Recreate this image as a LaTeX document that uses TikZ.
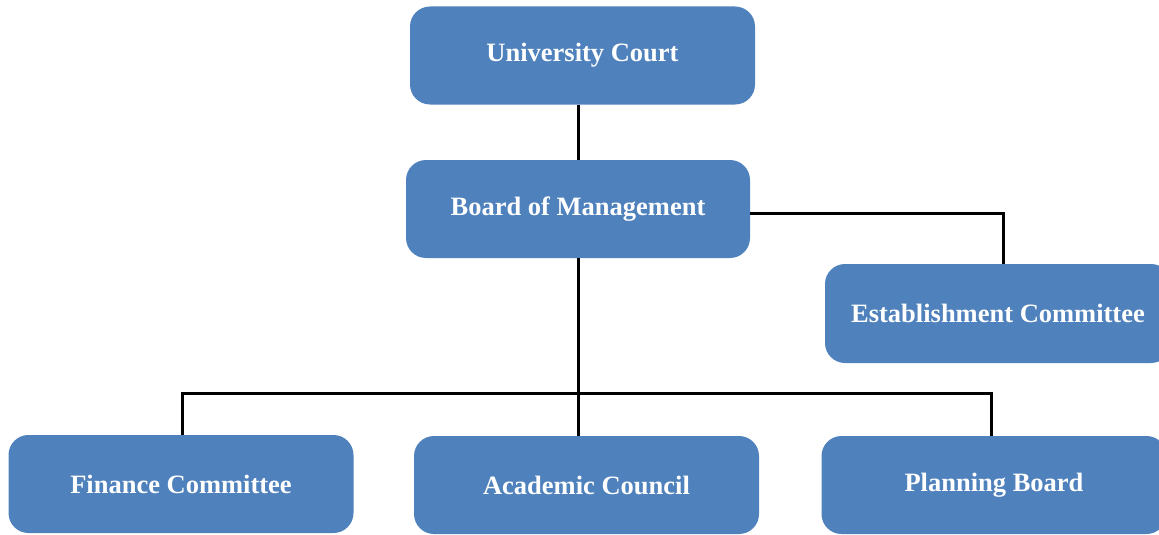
\documentclass[tikz,border=0pt]{standalone}
\usepackage{fontspec}
\setmainfont{Liberation Serif}
\definecolor{boxblue}{HTML}{4F81BD}
\begin{document}
\begin{tikzpicture}[x=1pt,y=-1pt,
  orgbox/.style={draw=none, fill=boxblue, rounded corners=20pt, minimum width=345pt, minimum height=98pt,
    text=white, font=\fontsize{26.5}{30}\selectfont\bfseries, inner sep=0pt, anchor=center},
  link/.style={draw=black, line width=3pt}]
\useasboundingbox (0,0) rectangle (1159,535);
\node[orgbox] (UC) at (582.5,55.5) {University Court};
\node[orgbox, minimum width=344pt] (BM) at (578,209) {Board of Management};
\node[orgbox, minimum width=346pt, minimum height=99pt] (EC) at (998,313.5) {Establishment Committee};
\node[orgbox] (FC) at (181,484) {Finance Committee};
\node[orgbox] (AC) at (586.5,485) {Academic Council};
\node[orgbox] (PB) at (994,485) {Planning Board};
\coordinate (eBend) at (1003,213);
\coordinate (busL) at (182,393);
\coordinate (busR) at (991,393);
\draw[link] (BM.north |- UC.south) -- (BM.north);
\draw[link] (BM.east |- eBend) -- (eBend) -- (eBend |- EC.north);
\draw[link] (BM.south) -- (BM.south |- AC.north);
\draw[link] (busL |- FC.north) -- (busL) -- (busR) -- (busR |- PB.north);
\end{tikzpicture}
\end{document}
